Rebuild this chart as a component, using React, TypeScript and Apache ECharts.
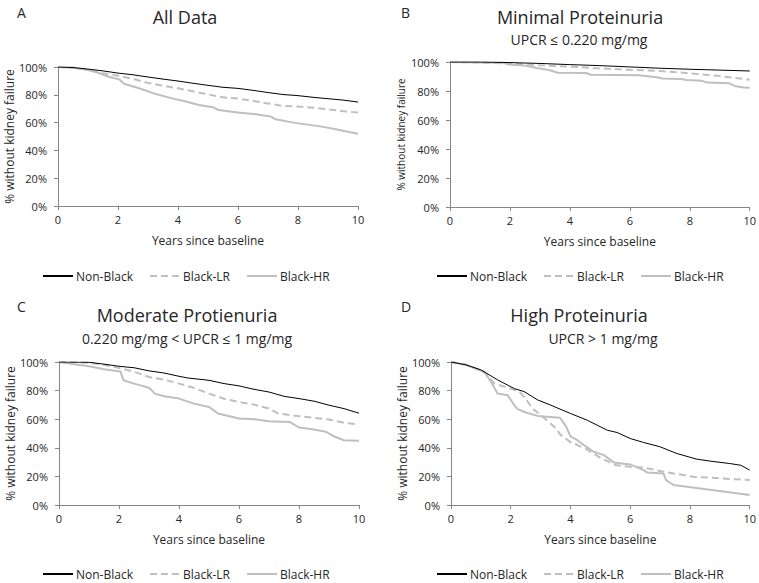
import React, { useEffect, useRef } from "react";
import * as echarts from "echarts";

// ---- Data (years, % without kidney failure) ----
const seriesNames = ["Non-Black", "Black-LR", "Black-HR"];
const xTicks = [0, 2, 4, 6, 8, 10];
const yTicks = [0, 20, 40, 60, 80, 100];

const aNonBlack = [[0,100],[0.5,99.6],[1,98.5],[1.5,97.2],[2,95.6],[2.5,94.4],[3,92.8],[3.5,91.3],[4,89.9],[4.5,88.3],[5,86.8],[5.5,85.4],[6,84.6],[6.5,83.2],[7,81.6],[7.5,80.2],[8,79.4],[8.5,78.2],[9,77.2],[9.5,76.2],[10,74.8]];
const aBlackLR = [[0,100],[0.5,99.5],[1,98],[1.5,95.5],[2,93.7],[2.5,91.5],[3,88.5],[3.5,86.5],[4,84.7],[4.5,82.5],[5,80.3],[5.5,78.2],[6,77.3],[6.5,75.6],[7,73.8],[7.5,72],[8,71.6],[8.5,70.6],[9,69.6],[9.5,68.2],[10,67.3]];
const aBlackHR = [[0,100],[0.5,99.5],[1,97.8],[1.34,95.9],[1.68,93],[2.05,91],[2.2,88],[2.7,84.7],[3.2,81],[3.9,76.9],[4.2,75.5],[4.7,72.7],[5.2,70.8],[5.35,69],[6,67.3],[6.6,66],[7.1,64.3],[7.25,62.4],[7.9,59.8],[8.8,57.1],[9.3,55],[9.7,53.3],[10,52]];

const bNonBlack = [[0,100],[1,100],[2,99.6],[3,99],[4,98.2],[5,97.5],[6,96.6],[7,95.7],[8,95],[9,94.4],[10,93.8]];
const bBlackLR = [[0,100],[1,99.6],[2,99],[3,97.7],[4,96.8],[5,95.6],[6,94.6],[7,93.8],[8,92.2],[9,90.3],[9.5,89],[10,87.8]];
const bBlackHR = [[0,100],[1.8,99.5],[1.95,98.3],[2.5,97.5],[2.9,95.8],[3.3,94.5],[3.6,92.6],[4.55,92.4],[4.7,91.2],[6.3,90.8],[6.9,89.5],[7.1,88.6],[7.7,88.3],[7.9,87.6],[8.4,87],[8.6,85.8],[9.3,85.4],[9.5,83.5],[9.8,82.4],[10,82.2]];

const cNonBlack = [[0,100],[1,99.8],[1.5,98.5],[2,97],[2.5,96],[3,93.8],[3.5,92.3],[4,90],[4.3,88.8],[5,87.2],[5.5,84.9],[6,83.3],[6.5,80.9],[7,79],[7.5,76],[8,74.4],[8.5,72.6],[9,69.8],[9.5,67.4],[10,64.2]];
const cBlackLR = [[0,100],[1,99.5],[1.5,98],[2,95.8],[2.5,93.2],[3,89.5],[3.5,87.7],[4,84.9],[4.5,81.9],[5,77.9],[5.5,74.3],[6,72.1],[6.5,70.2],[7,67.4],[7.3,64],[8,62.1],[9,59.8],[9.5,57.5],[10,56.3]];
const cBlackHR = [[0,100],[0.5,98.5],[1,97],[1.5,95],[2.05,93.3],[2.15,87.2],[2.5,84.9],[3,82],[3.2,77.9],[3.5,76],[4,74.4],[4.5,70.9],[5,68.6],[5.3,64],[6,60.5],[6.5,60],[7,58.6],[7.7,58],[8,54.2],[8.5,52.8],[8.9,51.2],[9.2,47.7],[9.5,45.3],[10,44.9]];

const dNonBlack = [[0,100],[0.5,98],[1,94.5],[1.56,87.5],[2.12,81.4],[2.45,79.3],[2.9,73.5],[3.34,69.8],[4,64],[4.56,59.3],[5.23,52.3],[5.56,50.7],[6,46.5],[6.45,43.7],[7,40.7],[7.56,36],[8.22,32.1],[8.67,30.7],[9.33,29],[9.7,27.8],[10,24.4]];
const dBlackLR = [[0,100],[0.5,98.3],[1.12,93],[1.45,84.9],[2,81.4],[2.3,79],[2.5,74.4],[2.73,67.4],[3,63],[3.5,54],[3.67,49],[4,44],[4.5,39.5],[5,33],[5.5,28],[6,26.7],[6.45,26.2],[7.11,23.3],[8.1,19.8],[10,17.4]];
const dBlackHR = [[0,100],[0.5,98],[1.12,93],[1.34,86],[1.56,78],[1.9,76.7],[2.12,69.8],[2.23,67],[2.5,64.7],[2.9,62.3],[3.65,61],[3.85,55],[4.0,48],[4.23,45.3],[4.45,41.9],[4.78,37.2],[5.12,34.9],[5.45,29.8],[6.0,28.4],[6.45,24.4],[6.56,22.8],[7.11,22.1],[7.2,17.4],[7.45,14],[10,7]];

const panelLetters = ["A", "B", "C", "D"];
const panelTitles = ["All Data", "Minimal Proteinuria", "Moderate Protienuria", "High Proteinuria"];
const panelSubtitles = ["", "UPCR ≤ 0.220 mg/mg", "0.220 mg/mg < UPCR ≤ 1 mg/mg", "UPCR > 1 mg/mg"];
const panelData = [
  [aNonBlack, aBlackLR, aBlackHR],
  [bNonBlack, bBlackLR, bBlackHR],
  [cNonBlack, cBlackLR, cBlackHR],
  [dNonBlack, dBlackLR, dBlackHR],
];

const FONT = "'Open Sans', sans-serif";
const TEXT = "#262626";
const AXIS = "#868686";
const GRAY = "#bfbfbf";

// layout per panel
const grids = [
  { left: 58, top: 67, width: 300, height: 139 },
  { left: 450, top: 62, width: 302, height: 145 },
  { left: 59, top: 362, width: 300, height: 143 },
  { left: 451, top: 362, width: 301, height: 143 },
];
const titlePos = [
  { x: 180, y: 3, sx: 180, sy: 0 },
  { x: 575, y: 3, sx: 574, sy: 27 },
  { x: 182, y: 301, sx: 182, sy: 326 },
  { x: 574, y: 301, sx: 598, sy: 326 },
];
const letterPos = [
  { x: 12, y: 0 },
  { x: 396, y: 0 },
  { x: 12, y: 294 },
  { x: 396, y: 294 },
];
const legendPos = [
  { left: 42, top: 270 },
  { left: 436, top: 270 },
  { left: 42, top: 568 },
  { left: 436, top: 568 },
];
const yNameSize = [12, 10, 12, 12];

export default function App() {
  const ref = useRef<HTMLDivElement>(null);
  useEffect(() => {
    if (!ref.current) return;
    const chart = echarts.init(ref.current, undefined, { renderer: "svg" });

    const title: any[] = [];
    const legend: any[] = [];
    const xAxis: any[] = [];
    const yAxis: any[] = [];
    const series: any[] = [];

    grids.forEach((g, i) => {
      title.push({
        text: panelLetters[i],
        left: letterPos[i].x,
        top: letterPos[i].y,
        textStyle: { fontFamily: FONT, fontSize: 14, fontWeight: "normal", color: TEXT },
      });
      title.push({
        text: panelTitles[i],
        left: titlePos[i].x,
        top: titlePos[i].y,
        textAlign: "center",
        textStyle: { fontFamily: FONT, fontSize: 18, fontWeight: "normal", color: TEXT },
      });
      if (panelSubtitles[i]) {
        title.push({
          text: panelSubtitles[i],
          left: titlePos[i].sx,
          top: titlePos[i].sy,
          textAlign: "center",
          textStyle: { fontFamily: FONT, fontSize: 14, fontWeight: "normal", color: TEXT },
        });
      }
      legend.push({
        data: seriesNames,
        left: legendPos[i].left,
        top: legendPos[i].top,
        padding: 0,
        itemWidth: 30,
        itemHeight: 14,
        itemGap: 16,
        itemStyle: { opacity: 0 },
        textStyle: { fontFamily: FONT, fontSize: 12, color: TEXT, padding: [0, 0, 0, -2] },
        selectedMode: false,
      });
      xAxis.push({
        type: "value",
        gridIndex: i,
        min: 0,
        max: 10,
        interval: 2,
        name: "Years since baseline",
        nameLocation: "middle",
        nameGap: 28,
        nameTextStyle: { fontFamily: FONT, fontSize: 12, color: TEXT },
        axisLine: { show: true, lineStyle: { color: AXIS, width: 1 } },
        axisTick: { show: true, length: 4, lineStyle: { color: AXIS } },
        axisLabel: {
          fontFamily: FONT, fontSize: 11, color: TEXT, margin: 8,
          formatter: (v: number) => (xTicks.includes(v) ? String(v) : ""),
        },
        splitLine: { show: false },
      });
      yAxis.push({
        type: "value",
        gridIndex: i,
        min: 0,
        max: 100,
        interval: 20,
        name: "% without kidney failure",
        nameLocation: "middle",
        nameGap: i === 1 ? 44 : 42,
        nameTextStyle: { fontFamily: FONT, fontSize: yNameSize[i], color: TEXT },
        axisLine: { show: true, lineStyle: { color: AXIS, width: 1 } },
        axisTick: { show: true, length: 4, lineStyle: { color: AXIS } },
        axisLabel: {
          fontFamily: FONT, fontSize: 11, color: TEXT, margin: 11,
          formatter: (v: number) => (yTicks.includes(v) ? v + "%" : ""),
        },
        splitLine: { show: false },
      });
      const [nb, lr, hr] = panelData[i];
      series.push({
        name: "Black-HR", type: "line", xAxisIndex: i, yAxisIndex: i, data: hr,
        symbol: "none", color: GRAY, lineStyle: { color: GRAY, width: 2 },
      });
      series.push({
        name: "Black-LR", type: "line", xAxisIndex: i, yAxisIndex: i, data: lr,
        symbol: "none", color: GRAY, lineStyle: { color: GRAY, width: 2, type: [7, 4] },
      });
      series.push({
        name: "Non-Black", type: "line", xAxisIndex: i, yAxisIndex: i, data: nb,
        symbol: "none", color: "#000000", lineStyle: { color: "#000000", width: 1 },
      });
    });

    chart.setOption({
      animation: false,
      backgroundColor: "#ffffff",
      title,
      legend,
      grid: grids.map((g) => ({ ...g, containLabel: false })),
      xAxis,
      yAxis,
      series,
    });
    return () => chart.dispose();
  }, []);
  return (
    <div
      ref={ref}
      style={{ position: "fixed", left: 0, top: 0, width: 759, height: 583 }}
    />
  );
}
